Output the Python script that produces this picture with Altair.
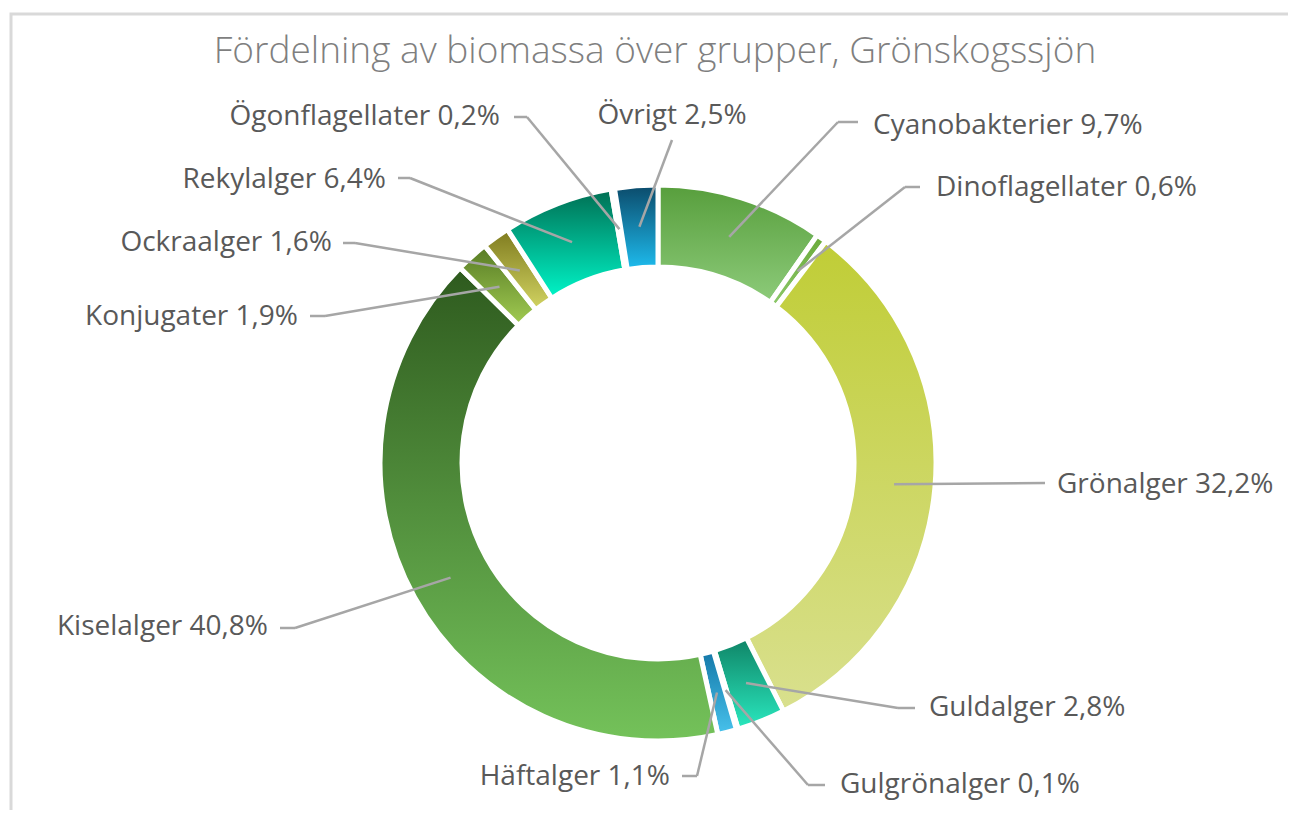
import math
import altair as alt
import pandas as pd

# ---- data ----
groups = ["Cyanobakterier", "Dinoflagellater", "Grönalger", "Guldalger", "Gulgrönalger",
          "Häftalger", "Kiselalger", "Konjugater", "Ockraalger", "Rekylalger",
          "Ögonflagellater", "Övrigt"]
shares = [9.7, 0.6, 32.2, 2.8, 0.1, 1.1, 40.8, 1.9, 1.6, 6.4, 0.2, 2.5]
title_text = "Fördelning av biomassa över grupper, Grönskogssjön"

# ---- styles (gradient top -> bottom per slice) ----
grad_top = ["#579e3c", "#6aaa3a", "#c0cd36", "#0f8466", "#1c8aa0", "#1478a8",
            "#2e5a1e", "#567a24", "#7e7a1e", "#006e52", "#0a6a7a", "#0b4a6a"]
grad_bot = ["#8dcb7a", "#8cc86a", "#d9e08e", "#2ae8bf", "#52c8d8", "#48c2ec",
            "#74c25a", "#a2cc52", "#d2d462", "#00f5c8", "#30b0c0", "#1ebcee"]

# ---- label layout (page pixels): line end x/y, horizontal end x, text x/y, align ----
line_end_x = [838, 905, 1045, 898, 808, 697, 295, 325, 355, 410, 527, 672]
line_end_y = [122, 187, 483, 708, 785, 776, 628, 316, 243, 178, 117, 140]
hline_x    = [858, 920, 1045, 915, 825, 682, 280, 310, 343, 398, 514, 672]
text_x     = [873, 936, 1057, 929, 840, 670, 268, 298, 332, 386, 500, 672]
text_y     = [126, 188, 485, 708, 785, 777, 627, 317, 243, 180, 117, 116]
text_align = ["left"] * 5 + ["right"] * 6 + ["center"]

OFF = 8  # page margin
CX, CY = 658 - OFF, 463 - OFF
R_OUT, R_IN, R_LEAD = 278, 196, 237
total = sum(shares)

df = pd.DataFrame({
    "order": list(range(len(groups))),
    "group": groups,
    "value": shares,
    "label": [f"{g} {str(v).replace('.', ',')}%" for g, v in zip(groups, shares)],
    "ex": [v - OFF for v in line_end_x],
    "ey": [v - OFF for v in line_end_y],
    "hx": [v - OFF for v in hline_x],
    "tx": [v - OFF for v in text_x],
    "ty": [v - OFF for v in text_y],
    "align": text_align,
})

base = alt.Chart(df).transform_window(
    cum="sum(value)", frame=[None, 0], sort=[alt.SortField("order")]
).transform_calculate(
    start="datum.cum - datum.value",
    mid=f"(datum.cum - datum.value / 2) / {total} * 2 * PI",
).transform_calculate(
    sx=f"{CX} + {R_LEAD} * sin(datum.mid)",
    sy=f"{CY} - {R_LEAD} * cos(datum.mid)",
)

theta_scale = alt.Scale(domain=[0, total], range=[0, 2 * math.pi])

layers = []
for i in range(len(groups)):
    grad = alt.LinearGradient(
        gradient="linear", x1=0, y1=0, x2=0, y2=1,
        stops=[alt.GradientStop(color=grad_top[i], offset=0),
               alt.GradientStop(color=grad_bot[i], offset=1)],
    )
    layers.append(
        base.transform_filter(alt.datum.order == i).mark_arc(
            innerRadius=R_IN, outerRadius=R_OUT, x=CX, y=CY,
            fill=grad, stroke="white", strokeWidth=5,
        ).encode(
            theta=alt.Theta("start:Q", scale=theta_scale),
            theta2="cum:Q",
        )
    )

line_color = "#a6a6a6"
diag = base.mark_rule(color=line_color, strokeWidth=2.5).encode(
    x=alt.X("sx:Q", scale=None), y=alt.Y("sy:Q", scale=None),
    x2="ex:Q", y2="ey:Q",
)
hline = base.mark_rule(color=line_color, strokeWidth=2.5).encode(
    x=alt.X("ex:Q", scale=None), y=alt.Y("ey:Q", scale=None),
    x2="hx:Q", y2="ey:Q",
)

text_layers = []
for al in ["left", "right", "center"]:
    text_layers.append(
        base.transform_filter(alt.datum.align == al).mark_text(
            align=al, baseline="middle", font="Open Sans", fontSize=28,
            color="#595959",
        ).encode(
            x=alt.X("tx:Q", scale=None), y=alt.Y("ty:Q", scale=None),
            text="label:N",
        )
    )

one = pd.DataFrame({"t": [title_text]})
title = alt.Chart(one).mark_text(
    align="center", baseline="middle", font="Open Sans", fontSize=37,
    fontWeight=300, color="#7f7f7f",
).encode(x=alt.value(655 - OFF), y=alt.value(52 - OFF), text="t:N")

frame = alt.Chart(one).mark_rect(
    filled=False, stroke="#d9d9d9", strokeWidth=3,
).encode(
    x=alt.value(11 - OFF), x2=alt.value(1300), y=alt.value(14 - OFF), y2=alt.value(830),
)

chart = alt.layer(frame, *layers, diag, hline, *text_layers, title).properties(
    width=1280, height=802, padding=0,
    autosize=alt.AutoSizeParams(type="none"),
).configure_view(strokeWidth=0)

chart.save("out.html", embed_options={"renderer": "svg", "actions": False})
